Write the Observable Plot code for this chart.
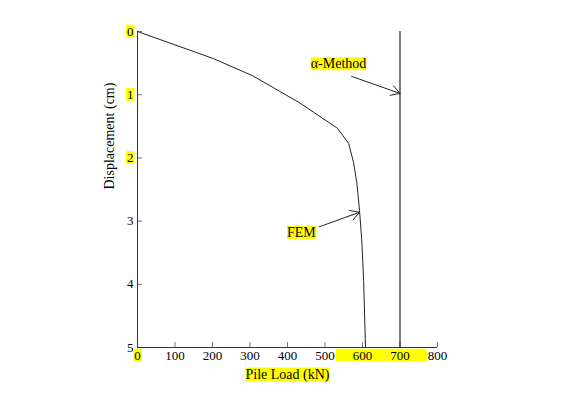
<!DOCTYPE html>
<html><head><meta charset="utf-8">
<script src="https://cdn.jsdelivr.net/npm/d3@7"></script>
<script src="https://cdn.jsdelivr.net/npm/@observablehq/plot@0.6"></script>
<style>html,body{margin:0;padding:0;background:#fff;overflow:hidden}
svg text{font-family:'Liberation Serif','Times New Roman',serif !important}</style>
</head><body><div id="chart"></div>
<script>
// FEM load–displacement curve
const femLoad = [0, 203, 307, 430, 533, 563, 576, 585, 592, 598, 603, 608];
const femDisp = [0, 0.43, 0.70, 1.12, 1.53, 1.77, 2.07, 2.4, 2.83, 3.3, 3.94, 5.0];
// α-Method capacity (vertical line)
const alphaLoad = [700, 700];
const alphaDisp = [0, 5];
// tick labels
const xTicks = [0, 100, 200, 300, 400, 500, 600, 700, 800];
const yTicks = [0, 1, 2, 3, 4, 5];
// annotations (data coordinates)
const noteText = ["α-Method", "FEM"];
const noteLoad = [536, 437];
const noteDisp = [0.51, 3.18];
const arrowLoad1 = [571, 485];
const arrowDisp1 = [0.71, 3.09];
const arrowLoad2 = [700, 592];
const arrowDisp2 = [0.98, 2.86];
const xLabel = "Pile Load (kN)";
const yLabel = "Displacement (cm)";
// highlighted labels
const hlYTicks = ["0", "1", "2"];
const hlXTicks = ["0"];
const hlXSpan = ["600", "700"];
const hlTexts = ["α-Method", "FEM", "Pile Load (kN)"];

const serif = "'Liberation Serif', 'Times New Roman', serif";
const fem = femLoad.map((x, i) => ({x, y: femDisp[i]}));
const alpha = alphaLoad.map((x, i) => ({x, y: alphaDisp[i]}));
const notes = noteText.map((t, i) => ({t, x: noteLoad[i], y: noteDisp[i]}));
const arrows = arrowLoad1.map((x1, i) => ({x1, y1: arrowDisp1[i], x2: arrowLoad2[i], y2: arrowDisp2[i]}));

const chart = Plot.plot({
  width: 566, height: 394,
  marginLeft: 137, marginRight: 129, marginTop: 31, marginBottom: 47,
  style: {fontFamily: serif, fontSize: "13px", background: "#fff", color: "#000"},
  x: {domain: [0, 800]},
  y: {domain: [0, 5], reverse: true},
  marks: [
    Plot.axisX({ticks: xTicks, tickSize: -5, tickPadding: 8, tickFormat: d => String(d), label: null, stroke: "#777", fill: "#000", fontSize: 13, fontFamily: serif}),
    Plot.axisY({ticks: yTicks, tickSize: -5, tickPadding: 9, tickFormat: d => String(d), label: null, stroke: "#777", fill: "#000", fontSize: 13, fontFamily: serif}),
    Plot.ruleX([0], {stroke: "#333"}),
    Plot.ruleY([5], {stroke: "#333"}),
    Plot.line(fem, {x: "x", y: "y", stroke: "#222", strokeWidth: 1}),
    Plot.line(alpha, {x: "x", y: "y", stroke: "#222", strokeWidth: 1.2}),
    Plot.arrow(arrows, {x1: "x1", y1: "y1", x2: "x2", y2: "y2", stroke: "#222", strokeWidth: 1, headLength: 15, headAngle: 60}),
    Plot.text(notes, {x: "x", y: "y", text: "t", fill: "#000", fontSize: 14, fontFamily: serif}),
    Plot.text([yLabel], {frameAnchor: "left", dx: -28, rotate: -90, fill: "#000", fontSize: 14, fontFamily: serif}),
    Plot.text([xLabel], {frameAnchor: "bottom", dy: 31, fill: "#000", fontSize: 14, fontFamily: serif})
  ]
});
document.getElementById("chart").appendChild(chart);

// yellow highlights behind selected labels
requestAnimationFrame(() => {
  const svg = chart.tagName === "svg" ? chart : chart.querySelector("svg");
  const sr = svg.getBoundingClientRect();
  const g = document.createElementNS("http://www.w3.org/2000/svg", "g");
  const firstMark = Array.from(svg.children).find(c => c.tagName === "g");
  svg.insertBefore(g, firstMark);
  const addRect = (x0, y0, x1, y1) => {
    const r = document.createElementNS("http://www.w3.org/2000/svg", "rect");
    r.setAttribute("x", x0); r.setAttribute("y", y0);
    r.setAttribute("width", x1 - x0); r.setAttribute("height", y1 - y0);
    r.setAttribute("fill", "#ffff00");
    g.appendChild(r);
  };
  const box = el => {
    const b = el.getBoundingClientRect();
    return [b.left - sr.left, b.top - sr.top, b.right - sr.left, b.bottom - sr.top];
  };
  const texts = sel => Array.from(svg.querySelectorAll(sel + " text"));
  texts('g[aria-label="y-axis tick label"]').filter(t => hlYTicks.includes(t.textContent)).forEach(t => {
    const [a, b, c, d] = box(t); addRect(a - 1, b + 1, c + 1, d - 1);
  });
  const xt = texts('g[aria-label="x-axis tick label"]');
  xt.filter(t => hlXTicks.includes(t.textContent)).forEach(t => {
    const [a, b, c, d] = box(t); addRect(a - 1, b + 1, c + 1, d - 1);
  });
  const span = xt.filter(t => hlXSpan.includes(t.textContent)).map(box);
  if (span.length) {
    addRect(Math.min(...span.map(s => s[0])) - 17, Math.min(...span.map(s => s[1])) + 1,
            Math.max(...span.map(s => s[2])) + 17, Math.max(...span.map(s => s[3])) - 1);
  }
  Array.from(svg.querySelectorAll("text")).filter(t => hlTexts.includes(t.textContent)).forEach(t => {
    const [a, b, c, d] = box(t); addRect(a, b + 1, c, d - 1);
  });
});
</script>
</body></html>
